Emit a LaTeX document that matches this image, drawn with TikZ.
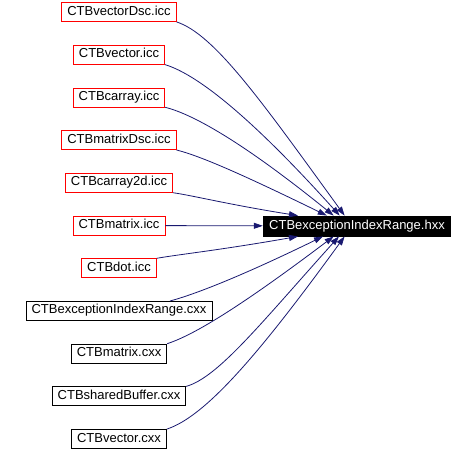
\documentclass[tikz,border=0pt]{standalone}
\usepackage{fontspec}
\setmainfont{Liberation Sans}
\usetikzlibrary{arrows.meta,positioning}
\definecolor{edgeblue}{HTML}{191970}

\begin{document}
\begin{tikzpicture}[x=1pt, y=1pt,
    file/.style={rectangle, draw=black, line width=0.8pt, inner xsep=5.5pt, inner ysep=0pt, text height=9pt, text depth=3pt, minimum height=19pt, font=\fontsize{13}{15}\selectfont},
    icc/.style={file, draw=red},
    hdr/.style={file, fill=black, text=white, minimum height=20pt, inner xsep=6pt},
    arrow/.style={-{Triangle[length=9pt,width=6pt]}, edgeblue, line width=0.8pt, out looseness=0.4, in looseness=1.4},
    node distance=22.9pt
  ]
    \useasboundingbox (0,0) rectangle (476,-451);
    \node[icc] (vdsc) at (119,-12) {CTBvectorDsc.icc};
    \node[icc, below=of vdsc] (vicc) {CTBvector.icc};
    \node[icc, below=of vicc] (cicc) {CTBcarray.icc};
    \node[icc, below=of cicc] (mdsc) {CTBmatrixDsc.icc};
    \node[icc, below=of mdsc] (c2d) {CTBcarray2d.icc};
    \node[icc, below=of c2d] (micc) {CTBmatrix.icc};
    \node[icc, below=of micc] (dicc) {CTBdot.icc};
    \node[file, below=of dicc] (excx) {CTBexceptionIndexRange.cxx};
    \node[file, below=of excx] (mcxx) {CTBmatrix.cxx};
    \node[file, below=of mcxx] (sbuf) {CTBsharedBuffer.cxx};
    \node[file, below=of sbuf] (vcxx) {CTBvector.cxx};
    \node[hdr] (exh) at (357,-226) {CTBexceptionIndexRange.hxx};
    \draw[arrow] (vdsc.south east) to[out=-18, in=126] (exh.140);
    \draw[arrow] (vicc.south east) to[out=-17, in=132] (exh.149);
    \draw[arrow] (cicc.south east) to[out=-14, in=141] (exh.156);
    \draw[arrow] (mdsc.south east) to[out=-14, in=154] (exh.161);
    \draw[arrow] (c2d.south east) to[out=-8, in=171] (exh.170);
    \draw[arrow] (micc) -- (exh);
    \draw[arrow] (dicc.north east) to[out=10, in=190] (exh.190);
    \draw[arrow] (excx.11) to[out=15, in=206] (exh.197);
    \draw[arrow] (mcxx.north east) to[out=18, in=217] (exh.204);
    \draw[arrow] (sbuf.north east) to[out=16, in=228] (exh.210);
    \draw[arrow] (vcxx.north east) to[out=18, in=234] (exh.220);
  \end{tikzpicture}
\end{document}
